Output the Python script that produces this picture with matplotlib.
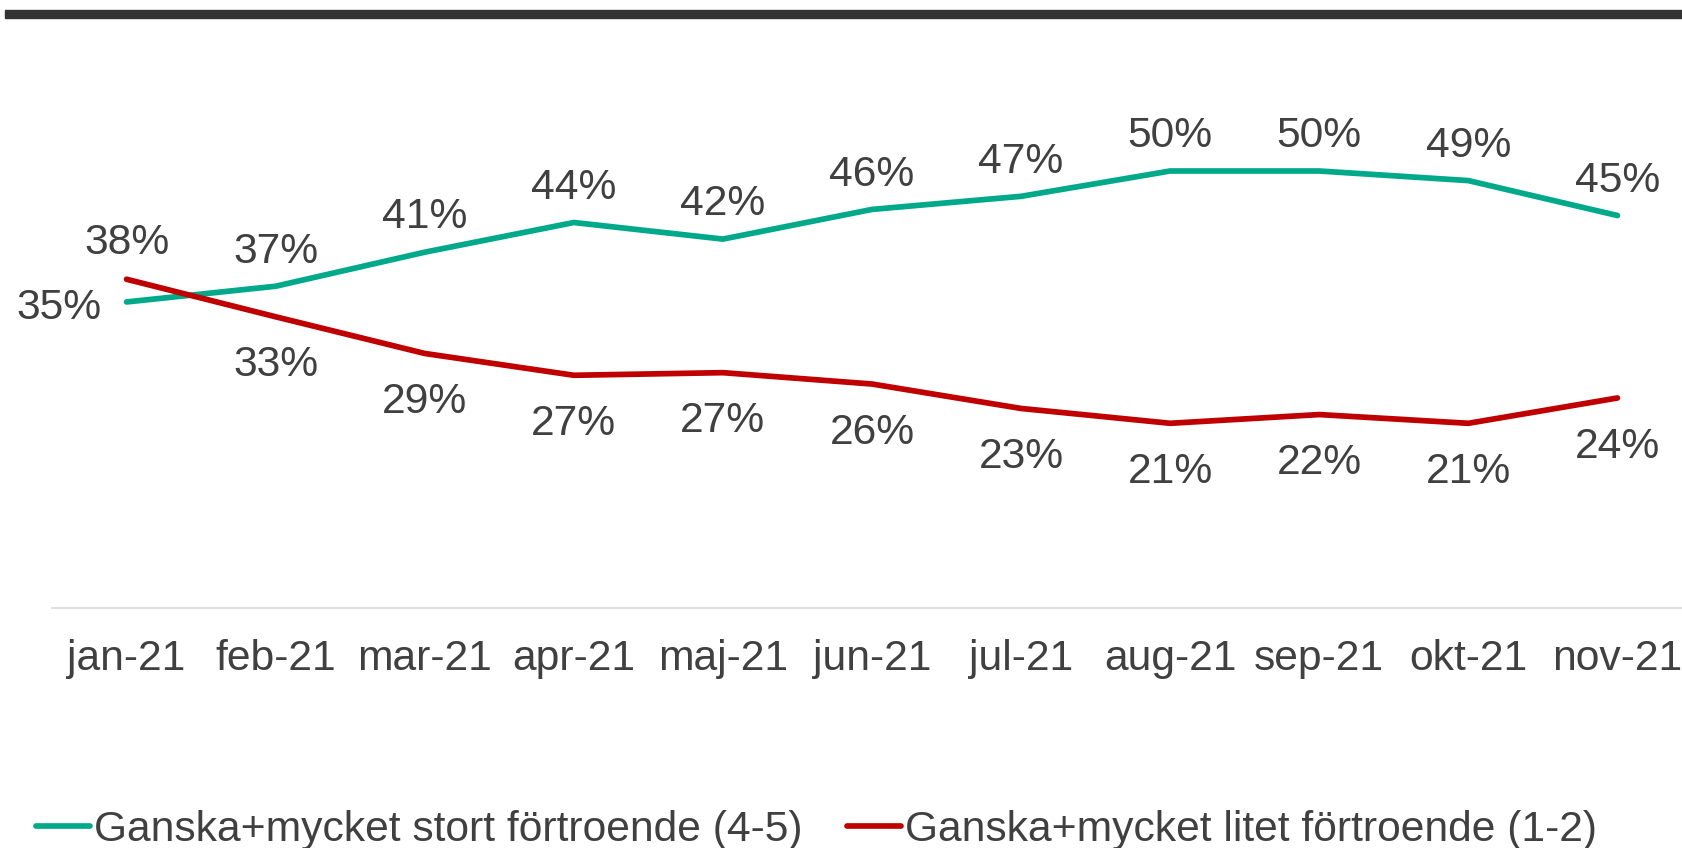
import matplotlib.pyplot as plt
from matplotlib.patches import Rectangle

plt.rcParams['font.family'] = ['Liberation Sans', 'DejaVu Sans']

months = ['jan-21', 'feb-21', 'mar-21', 'apr-21', 'maj-21', 'jun-21',
          'jul-21', 'aug-21', 'sep-21', 'okt-21', 'nov-21']
stort = [35.0, 36.8, 40.7, 44.1, 42.2, 45.6, 47.1, 50.0, 50.0, 48.9, 44.9]
litet = [37.6, 33.3, 29.1, 26.6, 26.9, 25.6, 22.8, 21.1, 22.1, 21.1, 24.0]
names = ['Ganska+mycket stort förtroende (4-5)',
         'Ganska+mycket litet förtroende (1-2)']

GREEN = '#00A98A'
RED = '#C00000'
TXT = '#404040'
FS = 30.7

fig = plt.figure(figsize=(16.82, 8.48), dpi=100)
ax = fig.add_axes([52 / 1682, 1 - 607.5 / 848, 1640 / 1682, 523.8 / 848])

x = range(len(months))
ax.plot(x, stort, color=GREEN, lw=4.1, solid_capstyle='round', label=names[0])
ax.plot(x, litet, color=RED, lw=4.1, solid_capstyle='round', label=names[1])

# data labels: green above, red below (first point special-cased)
for i, (g, r) in enumerate(zip(stort, litet)):
    if i == 0:
        ax.annotate(f'{round(g)}%', (i, g), xytext=(-49, -4), textcoords='offset points',
                    ha='center', va='center', fontsize=FS, color=TXT)
        ax.annotate(f'{round(r)}%', (i, r), xytext=(0, 26), textcoords='offset points',
                    ha='center', va='center', fontsize=FS, color=TXT)
        continue
    ax.annotate(f'{round(g)}%', (i, g), xytext=(0, 25), textcoords='offset points',
                ha='center', va='center', fontsize=FS, color=TXT)
    ax.annotate(f'{round(r)}%', (i, r), xytext=(0, -35), textcoords='offset points',
                ha='center', va='center', fontsize=FS, color=TXT)

ax.set_xlim(-0.5, 10.5)
ax.set_ylim(0, 60)
ax.set_xticks(list(x))
ax.set_xticklabels(months, fontsize=FS, color=TXT)
ax.tick_params(axis='x', length=0, pad=23)
ax.set_yticks([])
for s in ['top', 'right', 'left']:
    ax.spines[s].set_visible(False)
ax.spines['bottom'].set_color('#D9D9D9')
ax.spines['bottom'].set_linewidth(1.2)

# dark bar along the top
fig.patches.append(Rectangle((5 / 1682, 1 - 18 / 848), 1, 8 / 848,
                             transform=fig.transFigure, color='#333333', zorder=5))

fig.legend(loc='center left', bbox_to_anchor=(0.0216, 0.021), ncol=2, frameon=False,
           fontsize=FS, labelcolor=TXT, handlelength=1.27, handletextpad=0.08,
           columnspacing=1.05, borderpad=0, borderaxespad=0)

fig.savefig('out.png', dpi=100)
